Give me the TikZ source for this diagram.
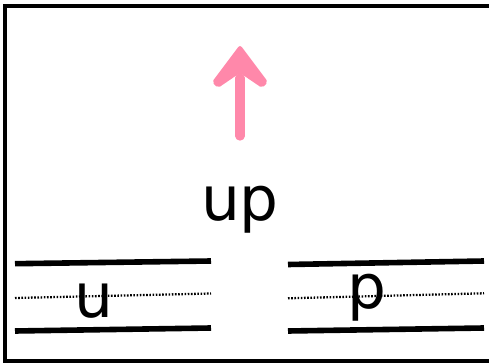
\documentclass[tikz,border=0pt]{standalone}
\usepackage{fontspec}
\setmainfont{DejaVu Sans}
\usetikzlibrary{positioning}
\definecolor{arrowpink}{RGB}{255,136,170}

\tikzset{
    rail/.style={line width=4.2pt},
    guide/.style={line width=1.7pt, dash pattern=on 1.2pt off 1.2pt},
    letter/.style={inner sep=0pt, anchor=base, font=\fontsize{46}{50}\selectfont},
}

\begin{document}
\begin{tikzpicture}[x=0.75pt, y=-0.75pt]
        \useasboundingbox (0,0) rectangle (489,363);
        \draw[line width=3pt] (5,6) rectangle (496,361);
        
        % arrow
        \coordinate (tail) at (240,136);
        \coordinate (tip) at (240,46);
        \draw[arrowpink, line width=7pt, line cap=round] (tail) -- (240,78);
        \filldraw[arrowpink, line width=1.2pt, line join=round, rounded corners=1.5pt]
        (tip) -- (267,82) -- (262,87) -- (240,72) -- (218,87) -- (213,82) -- cycle;
        
        % labels
        \node[letter] (up) at (240,221) {up};
        \node[letter] (u) at (94,317) {u};
        \node[letter] (p) at (367,309) {p};
        
        % left rails
        \draw[rail] (15,263.7) -- (211,261);
        \draw[guide] (15,298) -- (211,293.5);
        \draw[rail] (15,331) -- (211,328);
        
        % right rails
        \draw[rail] (288,264.5) -- (484,261);
        \draw[guide] (288,298.3) -- (484,293.3);
        \draw[rail] (288,331) -- (484,328);
    \end{tikzpicture}
\end{document}
